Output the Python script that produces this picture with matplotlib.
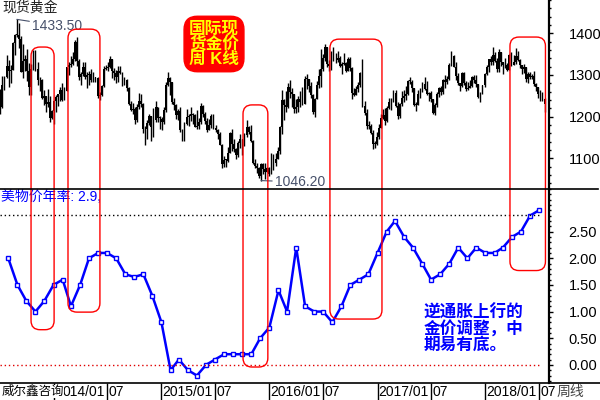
import numpy as np
import pandas as pd
import matplotlib
matplotlib.use("Agg")
import matplotlib.pyplot as plt
import matplotlib.dates as mdates
from matplotlib.patches import FancyBboxPatch
from matplotlib.ticker import MultipleLocator, FormatStrFormatter
from matplotlib.transforms import IdentityTransform
from matplotlib.lines import Line2D

plt.rcParams['font.family'] = ['Liberation Sans', 'Noto Sans CJK SC', 'DejaVu Sans']

# ── Weekly spot gold (weeks ending Friday, 2013-07-05 .. 2018-07-20) ──────────
gold_first_open = 1234
gold_close = [
    1223, 1277, 1295, 1322, 1310, 1313, 1376, 1396, 1395, 1387, 1308, 1333, 1338,
    1310, 1272, 1315, 1352, 1315, 1287, 1288, 1244, 1250, 1230, 1235, 1197, 1213,
    # 2014
    1237, 1247, 1254, 1264, 1240, 1262, 1318, 1323, 1326, 1339, 1379, 1334, 1294,
    1303, 1318, 1294, 1301, 1302, 1289, 1293, 1292, 1250, 1252, 1274, 1315, 1316,
    1320, 1338, 1310, 1304, 1294, 1310, 1305, 1280, 1287, 1268, 1229, 1216, 1218,
    1192, 1222, 1238, 1231, 1171, 1169, 1185, 1201, 1175, 1191, 1222, 1196, 1195,
    # 2015
    1186, 1216, 1277, 1293, 1283, 1234, 1227, 1204, 1213, 1167, 1152, 1183, 1199,
    1201, 1207, 1203, 1175, 1178, 1188, 1225, 1205, 1190, 1168, 1180, 1201, 1173,
    1168, 1157, 1132, 1085, 1095, 1094, 1113, 1160, 1134, 1121, 1108, 1137, 1145,
    1137, 1156, 1176, 1163, 1142, 1088, 1081, 1076, 1057, 1085, 1075, 1066, 1076,
    # 2016
    1061, 1098, 1089, 1097, 1117, 1174, 1239, 1227, 1222, 1271, 1259, 1255, 1217,
    1222, 1243, 1235, 1231, 1291, 1290, 1273, 1252, 1212, 1243, 1275, 1298, 1315,
    1340, 1366, 1327, 1322, 1350, 1335, 1335, 1341, 1321, 1327, 1328, 1310, 1338, 1316,
    1257, 1252, 1266, 1276, 1304, 1225, 1208, 1178, 1177, 1160, 1134, 1133, 1151,
    # 2017
    1173, 1196, 1204, 1190, 1220, 1234, 1238, 1257, 1226, 1201, 1229, 1244, 1249,
    1254, 1285, 1284, 1268, 1227, 1228, 1254, 1266, 1279, 1266, 1254, 1256, 1242,
    1209, 1228, 1254, 1269, 1258, 1289, 1284, 1291, 1325, 1346, 1320, 1297, 1280,
    1274, 1304, 1280, 1266, 1269, 1274, 1294, 1287, 1278, 1248, 1256, 1275, 1303,
    # 2018
    1320, 1338, 1332, 1349, 1333, 1315, 1354, 1330, 1323, 1324, 1313, 1347, 1325,
    1332, 1345, 1336, 1323, 1314, 1320, 1291, 1302, 1294, 1298, 1279, 1270, 1253,
    1256, 1241, 1231,
]
gold_high = [
    1267, 1298, 1298, 1348, 1335, 1324, 1378, 1399, 1433.5, 1424, 1393, 1375, 1348,
    1362, 1329, 1327, 1361, 1361, 1330, 1296, 1290, 1265, 1249, 1267, 1249, 1216,
    1240, 1251, 1255, 1270, 1280, 1272, 1320, 1332, 1345, 1355, 1384, 1392, 1338,
    1306, 1331, 1331, 1306, 1310, 1315, 1306, 1296, 1295, 1258, 1277, 1322, 1325,
    1332, 1346, 1322, 1317, 1312, 1322, 1321, 1307, 1296, 1291, 1270, 1238, 1232,
    1223, 1229, 1256, 1255, 1232, 1177, 1192, 1207, 1201, 1221, 1238, 1224, 1202,
    1200, 1224, 1282, 1307, 1296, 1283, 1245, 1231, 1219, 1223, 1171, 1186, 1219,
    1207, 1224, 1209, 1207, 1215, 1196, 1232, 1228, 1211, 1196, 1194, 1205, 1205,
    1179, 1170, 1162, 1133, 1105, 1097, 1126, 1162, 1170, 1147, 1125, 1142, 1157,
    1140, 1160, 1191, 1178, 1180, 1143, 1097, 1088, 1080, 1089, 1088, 1088, 1078,
    1080, 1112, 1110, 1112, 1127, 1177, 1263, 1243, 1261, 1280, 1287, 1268, 1254,
    1243, 1250, 1262, 1270, 1297, 1303, 1290, 1283, 1253, 1244, 1285, 1315, 1362,
    1350, 1375, 1357, 1337, 1357, 1367, 1353, 1358, 1346, 1330, 1352, 1332, 1344, 1343,
    1319, 1268, 1274, 1284, 1308, 1338, 1237, 1218, 1190, 1183, 1167, 1141, 1162,
    1182, 1207, 1219, 1220, 1226, 1245, 1245, 1264, 1263, 1234, 1233, 1261, 1264,
    1273, 1289, 1296, 1289, 1269, 1236, 1263, 1269, 1282, 1296, 1285, 1258, 1261,
    1243, 1233, 1258, 1270, 1274, 1291, 1301, 1298, 1329, 1358, 1349, 1330, 1305,
    1281, 1306, 1306, 1285, 1284, 1289, 1297, 1299, 1299, 1278, 1260, 1276, 1304,
    1323, 1339, 1345, 1366, 1355, 1340, 1362, 1341, 1325, 1341, 1329, 1350, 1356,
    1348, 1365, 1357, 1338, 1323, 1326, 1318, 1307, 1307, 1303, 1310, 1280, 1272,
    1264, 1260, 1245,
]
gold_low = [
    1207, 1221, 1263, 1292, 1270, 1280, 1311, 1347, 1390, 1365, 1306, 1292, 1310,
    1286, 1251, 1252, 1311, 1310, 1277, 1262, 1241, 1227, 1211, 1222, 1186, 1194,
    1182, 1212, 1225, 1237, 1238, 1239, 1261, 1300, 1320, 1323, 1334, 1321, 1288,
    1277, 1297, 1291, 1268, 1277, 1284, 1284, 1284, 1245, 1240, 1250, 1271, 1311,
    1310, 1317, 1292, 1287, 1281, 1283, 1302, 1273, 1276, 1261, 1227, 1214, 1207,
    1183, 1187, 1218, 1224, 1161, 1131, 1147, 1180, 1142, 1150, 1188, 1186, 1171,
    1167, 1183, 1212, 1274, 1252, 1231, 1216, 1195, 1191, 1163, 1142, 1142, 1180,
    1178, 1190, 1183, 1175, 1170, 1170, 1181, 1200, 1181, 1162, 1170, 1172, 1170,
    1162, 1147, 1131, 1077, 1078, 1080, 1091, 1113, 1118, 1116, 1098, 1103, 1124,
    1108, 1129, 1151, 1158, 1138, 1085, 1076, 1065, 1052, 1046.2, 1062, 1050, 1066,
    1057, 1062, 1071, 1081, 1097, 1110, 1157, 1192, 1212, 1220, 1244, 1224, 1208,
    1208, 1212, 1224, 1228, 1233, 1266, 1258, 1244, 1206, 1199, 1242, 1269, 1270,
    1310, 1333, 1320, 1310, 1311, 1333, 1329, 1330, 1318, 1302, 1324, 1306, 1310, 1309,
    1241, 1250, 1257, 1260, 1271, 1222, 1203, 1171, 1170, 1158, 1122, 1124, 1131,
    1146, 1172, 1195, 1180, 1188, 1219, 1216, 1235, 1223, 1195, 1197, 1225, 1235,
    1240, 1251, 1278, 1260, 1225, 1214, 1227, 1245, 1258, 1263, 1251, 1238, 1236,
    1205, 1204, 1224, 1246, 1251, 1255, 1268, 1279, 1289, 1321, 1318, 1287, 1276,
    1261, 1271, 1277, 1262, 1264, 1269, 1271, 1281, 1271, 1245, 1236, 1254, 1270,
    1300, 1307, 1324, 1325, 1331, 1307, 1307, 1322, 1303, 1316, 1309, 1311, 1321,
    1326, 1327, 1333, 1316, 1302, 1304, 1282, 1281, 1291, 1290, 1274, 1261, 1245,
    1237, 1238, 1211,
]

# ── US CPI yoy (Jul 2013 .. Jun 2018), drawn at the start of the next month ───
cpi_values = [
    2.0, 1.5, 1.2, 1.0, 1.2, 1.5,
    1.6, 1.1, 1.5, 2.0, 2.1, 2.1, 2.0, 1.7, 1.65, 1.7, 1.3, 0.8,
    -0.1, 0.1, -0.1, -0.2, 0.0, 0.1, 0.2, 0.2, 0.2, 0.2, 0.5, 0.7,
    1.4, 1.0, 2.2, 1.1, 1.0, 1.0, 0.8, 1.1, 1.5, 1.6, 1.7, 2.1,
    2.5, 2.7, 2.4, 2.2, 1.9, 1.6, 1.7, 1.9, 2.2, 2.0, 2.2, 2.1,
    2.1, 2.2, 2.4, 2.5, 2.8, 2.9,
]
cpi_ref_line = 2.82

# red marker boxes: date span, top (gold price) and bottom (cpi value)
box_start = ['2013-10-17', '2014-02-19', '2015-10-04', '2016-07-24', '2018-03-25']
box_end = ['2014-01-03', '2014-06-07', '2015-12-27', '2017-01-16', '2018-07-23']
box_top_gold = [1367, 1410, 1228, 1386, 1391]
box_bottom_cpi = [0.66, 0.99, -0.04, 0.86, 1.77]

tick_dates = pd.date_range('2014-01-01', '2018-07-01', freq='6MS')
tick_texts = [d.strftime('%Y/%m') if d.month == 1 else '07' for d in tick_dates]
# the first label sits under the "威尔鑫咨询" stamp, only its tail shows
tick_texts[0] = '014/01'
tick_shift_days = [32] + [4] * (len(tick_dates) - 1)

weeks = pd.date_range('2013-07-05', periods=len(gold_close), freq='W-FRI')
cpi_dates = pd.date_range('2013-08-01', periods=len(cpi_values), freq='MS')

close = np.array(gold_close, dtype=float)
opens = np.r_[gold_first_open, close[:-1]]
high = np.maximum(np.array(gold_high, dtype=float), np.maximum(opens, close))
low = np.minimum(np.array(gold_low, dtype=float), np.minimum(opens, close))

fig = plt.figure(figsize=(6, 4), dpi=100)
ax1 = fig.add_axes([0, 211 / 400, 549 / 600, 189 / 400])
ax2 = fig.add_axes([0, 17 / 400, 549 / 600, 194 / 400], sharex=ax1)

# ── candles ──
xd = mdates.date2num(weeks)
ax1.vlines(xd, low, high, color='black', linewidth=1.0)
body = close - opens
body = np.where(np.abs(body) < 2, 2, body)
ax1.bar(xd, body, bottom=opens, width=6, color='black', linewidth=0)

i_max = int(np.argmax(high))
i_min = int(np.argmin(low))
ax1.annotate('1433.50', xy=(xd[i_max], high[i_max]), xytext=(11, -4.5),
             textcoords='offset points', ha='left', va='center', fontsize=10,
             color='#46506a', arrowprops=dict(arrowstyle='-', color='#46506a', lw=0.8,
                                              shrinkA=0, shrinkB=0))
ax1.annotate('1046.20', xy=(xd[i_min], low[i_min]), xytext=(10, -1),
             textcoords='offset points', ha='left', va='center', fontsize=10,
             color='#46506a', arrowprops=dict(arrowstyle='-', color='#46506a', lw=0.8,
                                              shrinkA=0, shrinkB=0))
ax1.text(0.004, 0.995, '现货黄金', transform=ax1.transAxes, ha='left', va='top',
         fontsize=10, color='#222222')
ax1.text(214 / 549, 1 - 44 / 189, '国际现\n货金价\n周 K线', transform=ax1.transAxes,
         ha='center', va='center', fontsize=12, fontweight='bold', color='yellow',
         linespacing=0.95,
         bbox=dict(boxstyle='round,pad=0.3,rounding_size=0.8', fc='#ff0000', ec='#ff0000'))

ax1.set_ylim(1026, 1480)
ax1.yaxis.tick_right()
ax1.yaxis.set_minor_locator(MultipleLocator(20))
ax1.set_yticks([1100, 1200, 1300, 1400])

# ── CPI ──
ax2.plot(cpi_dates, cpi_values, color='#0000ff', linewidth=1.8, marker='s',
         markersize=3.2, mfc='white', mec='#0000ff', mew=1)
x_first = mdates.date2num(pd.Timestamp('2013-07-04'))
x_last = mdates.date2num(cpi_dates[-1])
ax2.hlines(cpi_ref_line, x_first, x_last, color='black', linestyle=(0, (1, 2)), linewidth=1)
ax2.hlines(0, x_first, x_last, color='#e00000', linestyle=(0, (1, 2)), linewidth=1)
ax2.text(0.002, 0.997, '美物价年率: 2.9,', transform=ax2.transAxes, ha='left', va='top',
         fontsize=10, color='#0000ff')
ax2.text(424 / 549, (383 - 304) / 194, '逆通胀上行的\n金价调整，中\n期易有底。',
         transform=ax2.transAxes, ha='left', va='top', fontsize=12, fontweight='bold',
         color='#0000ff', linespacing=1.0)

ax2.set_ylim(-0.34, 3.30)
ax2.yaxis.tick_right()
ax2.set_yticks([0, 0.5, 1.0, 1.5, 2.0, 2.5])
ax2.yaxis.set_minor_locator(MultipleLocator(0.1))
ax2.yaxis.set_major_formatter(FormatStrFormatter('%.2f'))

ax2.set_xlim(pd.Timestamp('2013-07-04'), pd.Timestamp('2018-08-04'))
ax2.set_xticks(tick_dates)
ax2.set_xticklabels([])
ax2.tick_params(axis='x', direction='out', length=12, width=1, color='black')
for d, t, sh in zip(tick_dates, tick_texts, tick_shift_days):
    ax2.text(mdates.date2num(d) + sh, -0.012, t, transform=ax2.get_xaxis_transform(),
             ha='left', va='top', fontsize=10, color='black')
ax2.text(0.003, -0.014, '威尔鑫咨询', transform=ax2.transAxes, ha='left', va='top',
         fontsize=9, color='black', zorder=5,
         bbox=dict(boxstyle='square,pad=0.02', fc='white', ec='none'))
fig.text(557 / 600, 1 - 385 / 400, '周线', ha='left', va='top', fontsize=10,
         color='#444444')

for ax in (ax1, ax2):
    ax.set_facecolor('none')
    ax.spines['left'].set_visible(False)
    ax.spines['top'].set_visible(False)
    ax.spines['right'].set_linewidth(1.6)
    ax.spines['bottom'].set_linewidth(1.2)
    ax.tick_params(axis='y', which='major', direction='out', length=3, width=1,
                   pad=11, labelsize=10.5)
    ax.tick_params(axis='y', which='minor', direction='out', length=1.5, width=1)
ax1.tick_params(axis='x', bottom=False, labelbottom=False)
ax1.spines['bottom'].set_visible(False)

# separator between panels, running under the value area too
fig.add_artist(Line2D([0, 598 / 600], [211 / 400, 211 / 400], color='black',
                      linewidth=1.2, transform=fig.transFigure))
fig.add_artist(Line2D([549 / 600, 600 / 600], [17 / 400, 17 / 400], color='black',
                      linewidth=1.2, transform=fig.transFigure))

# ── red rounded boxes spanning both panels ──
fig.canvas.draw()
for s, e, top, bot in zip(box_start, box_end, box_top_gold, box_bottom_cpi):
    x0, y1 = ax1.transData.transform((mdates.date2num(pd.Timestamp(s)), top))
    x1, y0 = ax2.transData.transform((mdates.date2num(pd.Timestamp(e)), bot))
    fig.add_artist(FancyBboxPatch((x0, y0), x1 - x0, y1 - y0,
                                  boxstyle='round,pad=0,rounding_size=9',
                                  fc='none', ec='#ff0000', lw=1,
                                  transform=IdentityTransform()))

fig.savefig('out.png', dpi=100)
